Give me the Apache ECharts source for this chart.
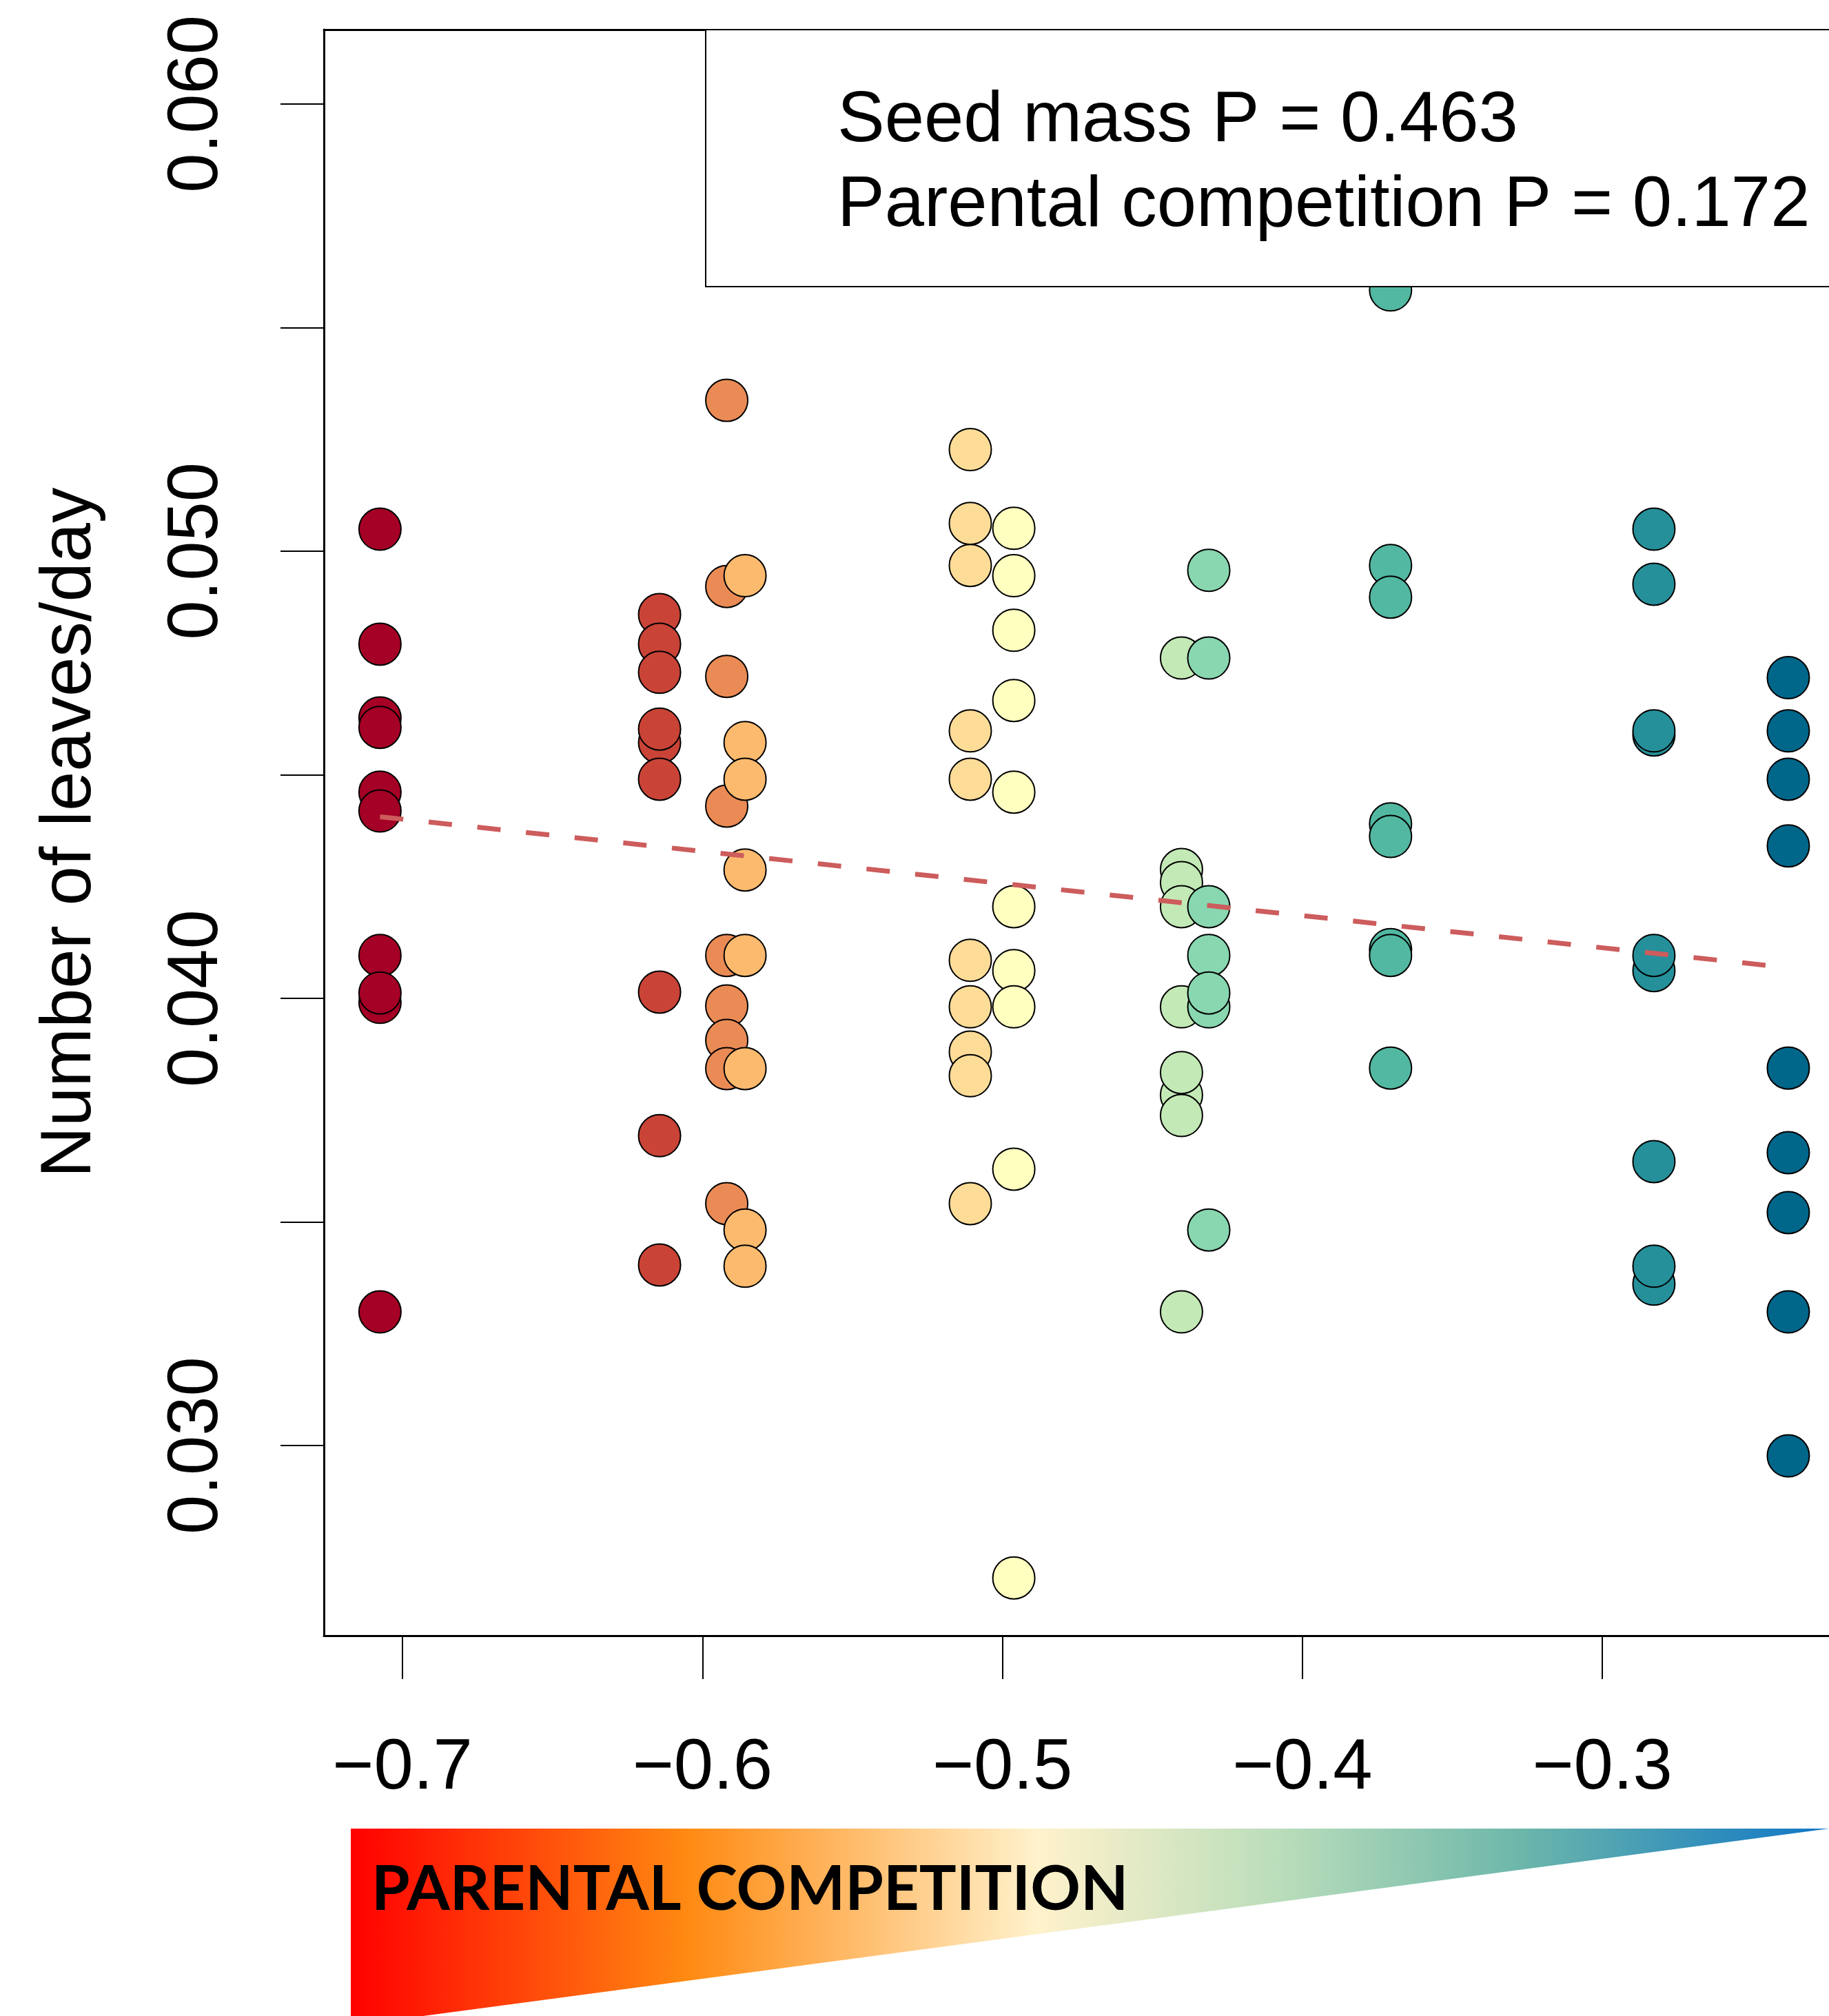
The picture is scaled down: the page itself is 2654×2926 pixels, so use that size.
<!DOCTYPE html>
<html>
<head>
<meta charset="utf-8">
<script src="https://cdn.jsdelivr.net/npm/echarts@6/dist/echarts.min.js"></script>
<style>
html,body{margin:0;padding:0;background:#fff;}
#chart{width:2654px;height:2926px;}
</style>
</head>
<body>
<div id="chart"></div>
<script>
// ---- data ----
const groupX = [-0.7075, -0.6143, -0.5919, -0.5858, -0.5107, -0.4962, -0.4403, -0.4312, -0.3706, -0.2828, -0.2380];
const groupColors = ['#A50026', '#C94437', '#EA8B55', '#FBBA6E', '#FDDC97', '#FFFFC0', '#C3E9B6', '#88D7B0', '#52B8A1', '#25909A', '#00668A'];
const leavesG1 = [0.05049, 0.04792, 0.04627, 0.04606, 0.04461, 0.04419, 0.04096, 0.03991, 0.04012, 0.03299];
const leavesG2 = [0.04858, 0.04792, 0.04729, 0.04572, 0.04602, 0.04490, 0.04014, 0.03693, 0.03404];
const leavesG3 = [0.05337, 0.04921, 0.04720, 0.04430, 0.04096, 0.03983, 0.03906, 0.03843, 0.03541];
const leavesG4 = [0.04945, 0.04572, 0.04490, 0.04287, 0.04096, 0.03843, 0.03482, 0.03401];
const leavesG5 = [0.05227, 0.05062, 0.04968, 0.04598, 0.04490, 0.04085, 0.03981, 0.03880, 0.03827, 0.03541];
const leavesG6 = [0.05051, 0.04945, 0.04823, 0.04666, 0.04461, 0.04205, 0.04062, 0.03981, 0.03618, 0.02704];
const leavesG7 = [0.04761, 0.04288, 0.04259, 0.04205, 0.03981, 0.03784, 0.03834, 0.03738, 0.03299];
const leavesG8 = [0.04957, 0.04761, 0.04205, 0.04096, 0.03981, 0.04012, 0.03482];
const leavesG9 = [0.05584, 0.04968, 0.04897, 0.04390, 0.04362, 0.04109, 0.04096, 0.03844];
const leavesG10 = [0.05049, 0.04926, 0.04589, 0.04598, 0.04062, 0.04096, 0.03635, 0.03361, 0.03401];
const leavesG11 = [0.04717, 0.04598, 0.04490, 0.04341, 0.03844, 0.03655, 0.03521, 0.03299, 0.02977];
const trendX = [-0.7075, -0.2400];
const trendY = [0.04406, 0.04070];
const xTicks = [-0.7, -0.6, -0.5, -0.4, -0.3];
const yTicks = [0.030, 0.035, 0.040, 0.045, 0.050, 0.055, 0.060];
const yTickLabels = [0.030, 0.040, 0.050, 0.060];
const legendLines = ['Seed mass P = 0.463', 'Parental competition P = 0.172'];
const yTitle = 'Number of leaves/day';
const bandTitle = 'PARENTAL COMPETITION';

const groups = [leavesG1, leavesG2, leavesG3, leavesG4, leavesG5, leavesG6, leavesG7, leavesG8, leavesG9, leavesG10, leavesG11];

const FONT = '"Liberation Sans", Arial, sans-serif';
const chart = echarts.init(document.getElementById('chart'), null, {renderer: 'canvas'});

const X_MIN = -0.7262, X_MAX = -0.22443;

const series = groups.map((ys, gi) => ({
  type: 'scatter',
  symbol: 'circle',
  symbolSize: 61,
  z: 2,
  itemStyle: {color: groupColors[gi], borderColor: '#000', borderWidth: 2, opacity: 1},
  emphasis: {disabled: true},
  data: ys.map(y => [groupX[gi], y])
}));
series.push({
  type: 'line',
  z: 5,
  symbol: 'none',
  lineStyle: {color: '#CD5C5C', width: 7, type: [34, 37], cap: 'butt'},
  data: trendX.map((x, i) => [x, trendY[i]])
});

const option = {
  animation: false,
  backgroundColor: '#fff',
  grid: {left: 470, top: 43, right: 0, bottom: 552, show: false},
  xAxis: [{
    type: 'value', min: X_MIN, max: X_MAX, position: 'bottom',
    axisLine: {show: true, onZero: false, lineStyle: {color: '#000', width: 3}},
    axisTick: {show: true, length: 63, inside: false, customValues: xTicks, lineStyle: {color: '#000', width: 2}},
    axisLabel: {show: true, customValues: xTicks, margin: 142, fontSize: 103, fontFamily: FONT, color: '#000',
      formatter: v => (v < 0 ? '\u2212' : '') + Math.abs(v).toFixed(1)},
    splitLine: {show: false}
  }, {
    type: 'value', min: X_MIN, max: X_MAX, position: 'top',
    axisLine: {show: true, onZero: false, lineStyle: {color: '#000', width: 3}},
    axisTick: {show: false}, axisLabel: {show: false}, splitLine: {show: false}
  }],
  yAxis: {
    type: 'value', min: 0.02575, max: 0.06166,
    name: yTitle, nameLocation: 'middle', nameRotate: 90, nameGap: 316,
    nameTextStyle: {fontSize: 103, fontFamily: FONT, color: '#000'},
    axisLine: {show: true, onZero: false, lineStyle: {color: '#000', width: 3}},
    axisTick: {show: true, length: 63, inside: false, customValues: yTicks, lineStyle: {color: '#000', width: 2}},
    axisLabel: {show: true, customValues: yTickLabels, rotate: 90, margin: 132, fontSize: 103, fontFamily: FONT, color: '#000',
      formatter: v => v.toFixed(3)},
    splitLine: {show: false}
  },
  graphic: [
    {type: 'rect', z: 100, shape: {x: 1024, y: 43, width: 1660, height: 373},
      style: {fill: '#fff', stroke: '#000', lineWidth: 2}},
    {type: 'text', z: 101, x: 1215, y: 177,
      style: {text: legendLines[0], font: '103px ' + FONT, fill: '#000', textVerticalAlign: 'middle', textAlign: 'left'}},
    {type: 'text', z: 101, x: 1215, y: 300,
      style: {text: legendLines[1], font: '103px ' + FONT, fill: '#000', textVerticalAlign: 'middle', textAlign: 'left'}},
    {type: 'polygon', z: 100, shape: {points: [[509, 2654], [2654, 2654], [509, 2940]]},
      style: {fill: new echarts.graphic.LinearGradient(0, 0, 1, 0, [
        {offset: 0, color: '#FF0000'},
        {offset: 0.228, color: '#FF8A12'},
        {offset: 0.465, color: '#FFF2CC'},
        {offset: 0.63, color: '#B9DDBA'},
        {offset: 0.79, color: '#6DB7AA'},
        {offset: 1, color: '#0E76C6'}
      ])}},
    {type: 'text', z: 101, x: 539, y: 2743,
      style: {text: bandTitle, font: 'bold 90px Lato, "Open Sans", sans-serif', fill: '#000', textVerticalAlign: 'middle', textAlign: 'left'}}
  ],
  series: series
};
chart.setOption(option);
</script>
</body>
</html>
